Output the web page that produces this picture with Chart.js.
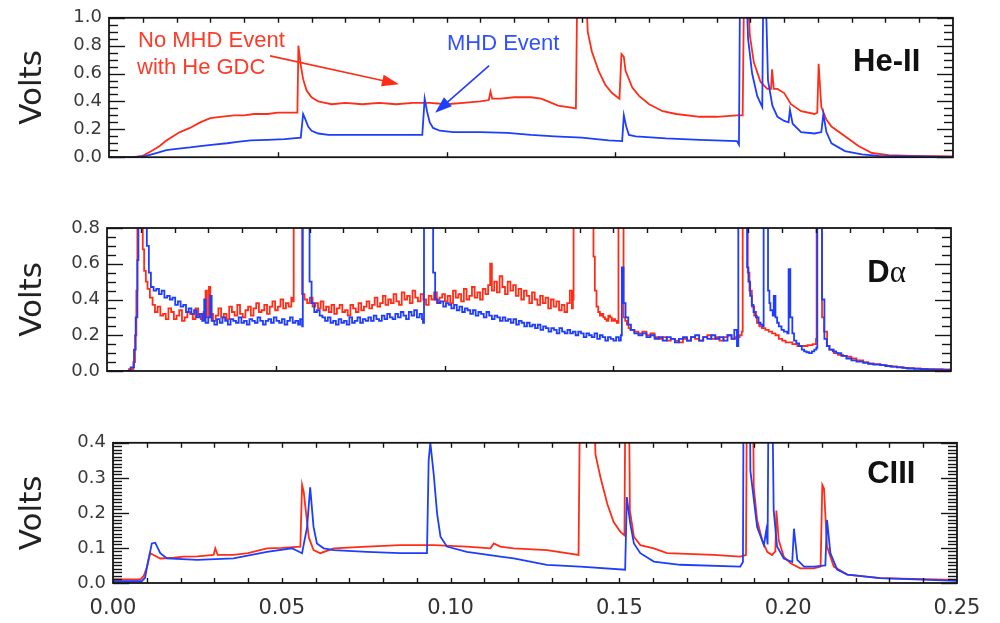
<!DOCTYPE html>
<html>
<head>
<meta charset="utf-8">
<title>He-II, D-alpha and CIII signals</title>
<script src="https://cdn.jsdelivr.net/npm/chart.js@4.4.1/dist/chart.umd.min.js"></script>
<style>
	html, body { margin: 0; padding: 0; background: #fff; }
	#page { position: relative; width: 1000px; height: 623px; overflow: hidden; }
	#page canvas { position: absolute; left: 0; }
</style>
</head>
<body>
<div id="page">
	<canvas id="panel-he" width="1000" height="175" style="top:0px"></canvas>
	<canvas id="panel-da" width="1000" height="180" style="top:210px"></canvas>
	<canvas id="panel-c" width="1000" height="198" style="top:425px"></canvas>
</div>
<script>
/* global Chart */
'use strict';

// time axis (s) and the y tick labels of each panel
const TIME_TICKS = [ 0, 0.05, 0.10, 0.15, 0.20, 0.25 ];
const HE_TICKS = [ 0, 0.2, 0.4, 0.6, 0.8, 1.0 ];
const DA_TICKS = [ 0, 0.2, 0.4, 0.6, 0.8 ];
const C_TICKS = [ 0, 0.1, 0.2, 0.3, 0.4 ];

const SERIES_NAMES = [ 'MHD Event', 'No MHD Event with He GDC' ];

// He-II, [time, volts]
const HE_RED = [
	[ 0, 0 ], [ 0.007, 0 ], [ 0.010, 0.01 ], [ 0.013, 0.05 ], [ 0.015, 0.08 ], [ 0.017, 0.12 ], [ 0.019, 0.15 ],
	[ 0.021, 0.18 ], [ 0.024, 0.21 ], [ 0.027, 0.25 ], [ 0.030, 0.28 ], [ 0.033, 0.29 ], [ 0.037, 0.30 ],
	[ 0.040, 0.30 ], [ 0.043, 0.31 ], [ 0.047, 0.31 ], [ 0.050, 0.32 ], [ 0.053, 0.32 ], [ 0.0558, 0.32 ],
	[ 0.0561, 0.80 ], [ 0.0568, 0.66 ], [ 0.0575, 0.56 ], [ 0.0585, 0.48 ], [ 0.060, 0.43 ], [ 0.062, 0.40 ],
	[ 0.064, 0.39 ], [ 0.066, 0.38 ], [ 0.070, 0.39 ], [ 0.075, 0.38 ], [ 0.080, 0.39 ], [ 0.085, 0.38 ],
	[ 0.090, 0.39 ], [ 0.095, 0.39 ], [ 0.100, 0.38 ], [ 0.105, 0.39 ], [ 0.110, 0.40 ], [ 0.1125, 0.41 ],
	[ 0.113, 0.47 ], [ 0.1135, 0.42 ], [ 0.116, 0.42 ], [ 0.120, 0.43 ], [ 0.125, 0.43 ], [ 0.128, 0.42 ],
	[ 0.130, 0.40 ], [ 0.133, 0.37 ], [ 0.136, 0.36 ], [ 0.1383, 0.35 ], [ 0.1387, 1.2 ], [ 0.1413, 1.2 ],
	[ 0.1418, 0.90 ], [ 0.143, 0.76 ], [ 0.145, 0.62 ], [ 0.147, 0.52 ], [ 0.149, 0.46 ], [ 0.1512, 0.42 ],
	[ 0.1518, 0.74 ], [ 0.1525, 0.72 ], [ 0.153, 0.62 ], [ 0.155, 0.50 ], [ 0.157, 0.44 ], [ 0.160, 0.38 ],
	[ 0.164, 0.33 ], [ 0.168, 0.31 ], [ 0.175, 0.29 ], [ 0.180, 0.29 ], [ 0.186, 0.30 ], [ 0.1877, 0.30 ],
	[ 0.1881, 1.2 ], [ 0.1893, 1.2 ], [ 0.1898, 0.88 ], [ 0.191, 0.68 ], [ 0.193, 0.54 ], [ 0.195, 0.49 ],
	[ 0.1961, 0.49 ], [ 0.1964, 0.63 ], [ 0.1969, 0.49 ], [ 0.198, 0.49 ], [ 0.200, 0.46 ], [ 0.202, 0.38 ],
	[ 0.205, 0.33 ], [ 0.209, 0.31 ], [ 0.2098, 0.32 ], [ 0.2102, 0.67 ], [ 0.211, 0.36 ], [ 0.2125, 0.27 ],
	[ 0.214, 0.22 ], [ 0.218, 0.15 ], [ 0.222, 0.08 ], [ 0.226, 0.03 ], [ 0.231, 0.015 ], [ 0.238, 0.01 ],
	[ 0.25, 0.005 ],
];
const HE_BLUE = [
	[ 0, 0 ], [ 0.008, 0 ], [ 0.011, 0.01 ], [ 0.014, 0.03 ], [ 0.017, 0.05 ], [ 0.020, 0.06 ], [ 0.024, 0.07 ],
	[ 0.027, 0.08 ], [ 0.031, 0.09 ], [ 0.035, 0.10 ], [ 0.038, 0.11 ], [ 0.042, 0.12 ], [ 0.047, 0.125 ],
	[ 0.052, 0.13 ], [ 0.0568, 0.14 ], [ 0.0575, 0.31 ], [ 0.0582, 0.27 ], [ 0.059, 0.22 ], [ 0.060, 0.19 ],
	[ 0.062, 0.17 ], [ 0.065, 0.16 ], [ 0.075, 0.16 ], [ 0.085, 0.16 ], [ 0.0928, 0.16 ], [ 0.0935, 0.42 ],
	[ 0.0942, 0.33 ], [ 0.095, 0.25 ], [ 0.096, 0.21 ], [ 0.098, 0.19 ], [ 0.102, 0.18 ], [ 0.110, 0.18 ],
	[ 0.118, 0.175 ], [ 0.125, 0.16 ], [ 0.132, 0.15 ], [ 0.140, 0.14 ], [ 0.148, 0.12 ], [ 0.1520, 0.115 ],
	[ 0.1525, 0.30 ], [ 0.1532, 0.22 ], [ 0.154, 0.16 ], [ 0.156, 0.15 ], [ 0.165, 0.135 ], [ 0.175, 0.125 ],
	[ 0.1860, 0.115 ], [ 0.1866, 0.09 ], [ 0.1869, 1.2 ], [ 0.1888, 1.2 ], [ 0.1893, 0.85 ], [ 0.1905, 0.60 ],
	[ 0.192, 0.44 ], [ 0.1935, 0.36 ], [ 0.1938, 1.2 ], [ 0.1945, 1.2 ], [ 0.1952, 0.55 ], [ 0.1965, 0.37 ],
	[ 0.198, 0.29 ], [ 0.200, 0.26 ], [ 0.2013, 0.25 ], [ 0.2017, 0.34 ], [ 0.2025, 0.24 ], [ 0.205, 0.18 ],
	[ 0.209, 0.17 ], [ 0.2110, 0.18 ], [ 0.2116, 0.31 ], [ 0.2125, 0.18 ], [ 0.214, 0.10 ], [ 0.218, 0.044 ],
	[ 0.223, 0.02 ], [ 0.228, 0.01 ], [ 0.25, 0.003 ],
];

// D-alpha, [time, volts]
const DA_RED = [
	[ 0, 0 ], [ 0.005, 0 ], [ 0.0065, 0.01 ], [ 0.0078, 0.05 ], [ 0.0083, 0.2 ], [ 0.0087, 0.45 ], [ 0.009, 0.9 ],
	[ 0.0104, 0.9 ], [ 0.0106, 0.68 ], [ 0.0110, 0.56 ], [ 0.0115, 0.50 ], [ 0.0120, 0.46 ], [ 0.0127, 0.41 ],
	[ 0.0135, 0.37 ], [ 0.0142, 0.33 ], [ 0.0150, 0.36 ], [ 0.0158, 0.31 ], [ 0.0166, 0.32 ], [ 0.0174, 0.29 ],
	[ 0.0182, 0.35 ], [ 0.0190, 0.33 ], [ 0.0198, 0.29 ], [ 0.0206, 0.31 ], [ 0.0214, 0.34 ], [ 0.0222, 0.28 ],
	[ 0.0230, 0.30 ], [ 0.0238, 0.33 ], [ 0.0246, 0.32 ], [ 0.0254, 0.29 ], [ 0.0262, 0.35 ], [ 0.0270, 0.31 ],
	[ 0.0278, 0.29 ], [ 0.0286, 0.33 ], [ 0.0292, 0.45 ], [ 0.0296, 0.30 ], [ 0.0302, 0.47 ], [ 0.0306, 0.32 ],
	[ 0.0314, 0.28 ], [ 0.0322, 0.31 ], [ 0.0330, 0.35 ], [ 0.0338, 0.30 ], [ 0.0346, 0.32 ], [ 0.0354, 0.29 ],
	[ 0.0362, 0.36 ], [ 0.0370, 0.33 ], [ 0.0378, 0.31 ], [ 0.0386, 0.37 ], [ 0.0394, 0.32 ], [ 0.0402, 0.30 ],
	[ 0.0410, 0.34 ], [ 0.0418, 0.36 ], [ 0.0426, 0.31 ], [ 0.0434, 0.35 ], [ 0.0442, 0.38 ], [ 0.0450, 0.33 ],
	[ 0.0458, 0.34 ], [ 0.0466, 0.37 ], [ 0.0474, 0.32 ], [ 0.0482, 0.36 ], [ 0.0490, 0.39 ], [ 0.0498, 0.34 ],
	[ 0.0506, 0.36 ], [ 0.0514, 0.40 ], [ 0.0522, 0.35 ], [ 0.0530, 0.38 ], [ 0.0538, 0.36 ], [ 0.0546, 0.41 ],
	[ 0.0550, 0.39 ], [ 0.0553, 0.9 ], [ 0.0576, 0.9 ], [ 0.0578, 0.43 ], [ 0.0585, 0.40 ], [ 0.0593, 0.38 ],
	[ 0.0601, 0.41 ], [ 0.0609, 0.36 ], [ 0.0617, 0.38 ], [ 0.0625, 0.35 ], [ 0.0633, 0.39 ], [ 0.0641, 0.34 ],
	[ 0.0649, 0.36 ], [ 0.0657, 0.33 ], [ 0.0665, 0.37 ], [ 0.0673, 0.32 ], [ 0.0681, 0.35 ], [ 0.0689, 0.37 ],
	[ 0.0697, 0.33 ], [ 0.0705, 0.34 ], [ 0.0713, 0.31 ], [ 0.0721, 0.37 ], [ 0.0729, 0.35 ], [ 0.0737, 0.33 ],
	[ 0.0745, 0.38 ], [ 0.0753, 0.34 ], [ 0.0761, 0.36 ], [ 0.0769, 0.39 ], [ 0.0777, 0.35 ], [ 0.0785, 0.37 ],
	[ 0.0793, 0.41 ], [ 0.0801, 0.36 ], [ 0.0809, 0.38 ], [ 0.0817, 0.42 ], [ 0.0825, 0.37 ], [ 0.0833, 0.40 ],
	[ 0.0841, 0.38 ], [ 0.0849, 0.43 ], [ 0.0857, 0.39 ], [ 0.0865, 0.37 ], [ 0.0873, 0.44 ], [ 0.0881, 0.40 ],
	[ 0.0889, 0.42 ], [ 0.0897, 0.38 ], [ 0.0905, 0.45 ], [ 0.0913, 0.41 ], [ 0.0921, 0.39 ], [ 0.0929, 0.43 ],
	[ 0.0937, 0.40 ], [ 0.0945, 0.37 ], [ 0.0953, 0.42 ], [ 0.0961, 0.40 ], [ 0.0969, 0.44 ], [ 0.0977, 0.38 ],
	[ 0.0985, 0.41 ], [ 0.0993, 0.43 ], [ 0.1001, 0.39 ], [ 0.1009, 0.42 ], [ 0.1017, 0.38 ], [ 0.1025, 0.45 ],
	[ 0.1033, 0.41 ], [ 0.1041, 0.43 ], [ 0.1049, 0.39 ], [ 0.1057, 0.46 ], [ 0.1065, 0.40 ], [ 0.1073, 0.42 ],
	[ 0.1081, 0.47 ], [ 0.1089, 0.41 ], [ 0.1097, 0.44 ], [ 0.1105, 0.40 ], [ 0.1113, 0.46 ], [ 0.1121, 0.43 ],
	[ 0.1129, 0.48 ], [ 0.1135, 0.60 ], [ 0.1140, 0.45 ], [ 0.1147, 0.50 ], [ 0.1155, 0.44 ], [ 0.1163, 0.53 ],
	[ 0.1171, 0.47 ], [ 0.1179, 0.43 ], [ 0.1187, 0.50 ], [ 0.1195, 0.45 ], [ 0.1203, 0.48 ], [ 0.1211, 0.42 ],
	[ 0.1219, 0.46 ], [ 0.1227, 0.40 ], [ 0.1235, 0.45 ], [ 0.1243, 0.42 ], [ 0.1251, 0.38 ], [ 0.1259, 0.44 ],
	[ 0.1267, 0.40 ], [ 0.1275, 0.37 ], [ 0.1283, 0.42 ], [ 0.1291, 0.38 ], [ 0.1299, 0.41 ], [ 0.1307, 0.35 ],
	[ 0.1315, 0.40 ], [ 0.1323, 0.36 ], [ 0.1331, 0.39 ], [ 0.1339, 0.34 ], [ 0.1347, 0.37 ], [ 0.1355, 0.33 ],
	[ 0.1363, 0.38 ], [ 0.1371, 0.45 ], [ 0.1377, 0.35 ], [ 0.1380, 0.40 ], [ 0.1382, 0.9 ], [ 0.1437, 0.9 ],
	[ 0.1441, 0.64 ], [ 0.1445, 0.45 ], [ 0.1450, 0.36 ], [ 0.1455, 0.33 ], [ 0.1460, 0.31 ], [ 0.1465, 0.32 ],
	[ 0.1470, 0.30 ], [ 0.1475, 0.29 ], [ 0.1480, 0.28 ], [ 0.1485, 0.31 ], [ 0.1490, 0.30 ], [ 0.1495, 0.28 ],
	[ 0.1500, 0.29 ], [ 0.1505, 0.28 ], [ 0.1510, 0.27 ], [ 0.1515, 0.9 ], [ 0.1526, 0.9 ], [ 0.1530, 0.30 ],
	[ 0.1535, 0.28 ], [ 0.1540, 0.26 ], [ 0.1545, 0.24 ], [ 0.1550, 0.23 ], [ 0.1562, 0.22 ], [ 0.1574, 0.21 ],
	[ 0.1586, 0.22 ], [ 0.1598, 0.20 ], [ 0.1610, 0.21 ], [ 0.1622, 0.19 ], [ 0.1634, 0.18 ], [ 0.1646, 0.19 ],
	[ 0.1658, 0.17 ], [ 0.1670, 0.18 ], [ 0.1682, 0.17 ], [ 0.1694, 0.16 ], [ 0.1706, 0.18 ], [ 0.1718, 0.17 ],
	[ 0.1730, 0.19 ], [ 0.1742, 0.18 ], [ 0.1754, 0.17 ], [ 0.1766, 0.19 ], [ 0.1778, 0.20 ], [ 0.1790, 0.18 ],
	[ 0.1802, 0.19 ], [ 0.1814, 0.17 ], [ 0.1826, 0.19 ], [ 0.1838, 0.20 ], [ 0.1850, 0.18 ], [ 0.1862, 0.19 ],
	[ 0.1874, 0.20 ], [ 0.1880, 0.22 ], [ 0.1883, 0.9 ], [ 0.1893, 0.9 ], [ 0.1898, 0.55 ], [ 0.1903, 0.45 ],
	[ 0.1910, 0.36 ], [ 0.1917, 0.31 ], [ 0.1925, 0.27 ], [ 0.1932, 0.25 ], [ 0.1940, 0.24 ], [ 0.1950, 0.23 ],
	[ 0.1960, 0.22 ], [ 0.1970, 0.21 ], [ 0.1980, 0.20 ], [ 0.1990, 0.18 ], [ 0.2000, 0.17 ], [ 0.2010, 0.16 ],
	[ 0.2020, 0.16 ], [ 0.2030, 0.15 ], [ 0.2045, 0.14 ], [ 0.2060, 0.14 ], [ 0.2075, 0.145 ], [ 0.2090, 0.15 ],
	[ 0.2100, 0.18 ], [ 0.2102, 0.9 ], [ 0.2111, 0.9 ], [ 0.2118, 0.30 ], [ 0.2124, 0.22 ], [ 0.2133, 0.14 ],
	[ 0.2140, 0.12 ], [ 0.2153, 0.10 ], [ 0.2165, 0.09 ], [ 0.2180, 0.085 ], [ 0.2192, 0.08 ], [ 0.2205, 0.07 ],
	[ 0.2220, 0.06 ], [ 0.2240, 0.05 ], [ 0.2255, 0.042 ], [ 0.2270, 0.038 ], [ 0.2291, 0.033 ], [ 0.2310, 0.028 ],
	[ 0.2325, 0.024 ], [ 0.2340, 0.022 ], [ 0.2360, 0.018 ], [ 0.2375, 0.016 ], [ 0.2390, 0.015 ], [ 0.2410, 0.012 ],
	[ 0.2430, 0.011 ], [ 0.2450, 0.010 ], [ 0.2475, 0.009 ], [ 0.25, 0.008 ],
];
const DA_BLUE = [
	[ 0, 0 ], [ 0.0055, 0 ], [ 0.0070, 0.02 ], [ 0.0080, 0.12 ], [ 0.0085, 0.30 ], [ 0.0090, 0.62 ], [ 0.0093, 0.9 ],
	[ 0.0116, 0.9 ], [ 0.0118, 0.70 ], [ 0.0124, 0.55 ], [ 0.0130, 0.47 ], [ 0.0138, 0.45 ], [ 0.0146, 0.46 ],
	[ 0.0154, 0.43 ], [ 0.0162, 0.45 ], [ 0.0170, 0.41 ], [ 0.0178, 0.42 ], [ 0.0186, 0.40 ], [ 0.0194, 0.41 ],
	[ 0.0202, 0.37 ], [ 0.0210, 0.39 ], [ 0.0218, 0.36 ], [ 0.0226, 0.37 ], [ 0.0234, 0.33 ], [ 0.0242, 0.35 ],
	[ 0.0250, 0.32 ], [ 0.0258, 0.34 ], [ 0.0266, 0.30 ], [ 0.0274, 0.32 ], [ 0.0282, 0.28 ], [ 0.0288, 0.40 ],
	[ 0.0292, 0.27 ], [ 0.0300, 0.30 ], [ 0.0306, 0.42 ], [ 0.0310, 0.28 ], [ 0.0318, 0.26 ], [ 0.0326, 0.29 ],
	[ 0.0334, 0.27 ], [ 0.0342, 0.30 ], [ 0.0350, 0.28 ], [ 0.0358, 0.26 ], [ 0.0366, 0.29 ], [ 0.0374, 0.28 ],
	[ 0.0382, 0.27 ], [ 0.0390, 0.30 ], [ 0.0398, 0.27 ], [ 0.0406, 0.28 ], [ 0.0414, 0.26 ], [ 0.0422, 0.29 ],
	[ 0.0430, 0.28 ], [ 0.0438, 0.27 ], [ 0.0446, 0.30 ], [ 0.0454, 0.28 ], [ 0.0462, 0.26 ], [ 0.0470, 0.28 ],
	[ 0.0478, 0.29 ], [ 0.0486, 0.27 ], [ 0.0494, 0.30 ], [ 0.0502, 0.28 ], [ 0.0510, 0.27 ], [ 0.0518, 0.29 ],
	[ 0.0526, 0.26 ], [ 0.0534, 0.28 ], [ 0.0542, 0.30 ], [ 0.0550, 0.27 ], [ 0.0558, 0.28 ], [ 0.0566, 0.26 ],
	[ 0.0572, 0.29 ], [ 0.0578, 0.25 ], [ 0.0580, 0.9 ], [ 0.0596, 0.9 ], [ 0.0600, 0.50 ], [ 0.0606, 0.38 ],
	[ 0.0614, 0.33 ], [ 0.0622, 0.34 ], [ 0.0630, 0.31 ], [ 0.0638, 0.30 ], [ 0.0646, 0.28 ], [ 0.0654, 0.30 ],
	[ 0.0662, 0.27 ], [ 0.0670, 0.28 ], [ 0.0678, 0.26 ], [ 0.0686, 0.29 ], [ 0.0694, 0.27 ], [ 0.0702, 0.28 ],
	[ 0.0710, 0.26 ], [ 0.0718, 0.30 ], [ 0.0726, 0.27 ], [ 0.0734, 0.28 ], [ 0.0742, 0.30 ], [ 0.0750, 0.27 ],
	[ 0.0758, 0.29 ], [ 0.0766, 0.28 ], [ 0.0774, 0.30 ], [ 0.0782, 0.28 ], [ 0.0790, 0.31 ], [ 0.0798, 0.29 ],
	[ 0.0806, 0.28 ], [ 0.0814, 0.31 ], [ 0.0822, 0.29 ], [ 0.0830, 0.32 ], [ 0.0838, 0.30 ], [ 0.0846, 0.29 ],
	[ 0.0854, 0.32 ], [ 0.0862, 0.30 ], [ 0.0870, 0.33 ], [ 0.0878, 0.31 ], [ 0.0886, 0.29 ], [ 0.0894, 0.33 ],
	[ 0.0902, 0.31 ], [ 0.0910, 0.34 ], [ 0.0918, 0.30 ], [ 0.0926, 0.32 ], [ 0.0933, 0.29 ], [ 0.0936, 0.27 ],
	[ 0.0939, 0.9 ], [ 0.0962, 0.9 ], [ 0.0966, 0.55 ], [ 0.0972, 0.40 ], [ 0.0980, 0.38 ], [ 0.0988, 0.39 ],
	[ 0.0996, 0.36 ], [ 0.1004, 0.38 ], [ 0.1012, 0.37 ], [ 0.1020, 0.35 ], [ 0.1028, 0.37 ], [ 0.1036, 0.34 ],
	[ 0.1044, 0.36 ], [ 0.1052, 0.33 ], [ 0.1060, 0.35 ], [ 0.1068, 0.34 ], [ 0.1076, 0.32 ], [ 0.1084, 0.34 ],
	[ 0.1092, 0.31 ], [ 0.1100, 0.33 ], [ 0.1108, 0.32 ], [ 0.1116, 0.30 ], [ 0.1124, 0.33 ], [ 0.1132, 0.31 ],
	[ 0.1140, 0.29 ], [ 0.1148, 0.31 ], [ 0.1156, 0.30 ], [ 0.1164, 0.28 ], [ 0.1172, 0.30 ], [ 0.1180, 0.28 ],
	[ 0.1188, 0.29 ], [ 0.1196, 0.27 ], [ 0.1204, 0.29 ], [ 0.1212, 0.26 ], [ 0.1220, 0.28 ], [ 0.1228, 0.27 ],
	[ 0.1236, 0.25 ], [ 0.1244, 0.27 ], [ 0.1252, 0.25 ], [ 0.1260, 0.26 ], [ 0.1268, 0.24 ], [ 0.1276, 0.26 ],
	[ 0.1284, 0.23 ], [ 0.1292, 0.25 ], [ 0.1300, 0.24 ], [ 0.1308, 0.22 ], [ 0.1316, 0.24 ], [ 0.1324, 0.23 ],
	[ 0.1332, 0.21 ], [ 0.1340, 0.24 ], [ 0.1348, 0.22 ], [ 0.1356, 0.21 ], [ 0.1364, 0.23 ], [ 0.1372, 0.21 ],
	[ 0.1380, 0.22 ], [ 0.1388, 0.20 ], [ 0.1396, 0.22 ], [ 0.1404, 0.21 ], [ 0.1412, 0.19 ], [ 0.1420, 0.21 ],
	[ 0.1428, 0.20 ], [ 0.1436, 0.19 ], [ 0.1444, 0.21 ], [ 0.1452, 0.18 ], [ 0.1460, 0.20 ], [ 0.1468, 0.19 ],
	[ 0.1476, 0.17 ], [ 0.1484, 0.19 ], [ 0.1492, 0.18 ], [ 0.1500, 0.17 ], [ 0.1508, 0.19 ], [ 0.1516, 0.17 ],
	[ 0.1522, 0.20 ], [ 0.1525, 0.58 ], [ 0.1530, 0.38 ], [ 0.1536, 0.30 ], [ 0.1544, 0.26 ], [ 0.1552, 0.23 ],
	[ 0.1562, 0.21 ], [ 0.1574, 0.20 ], [ 0.1586, 0.21 ], [ 0.1598, 0.19 ], [ 0.1610, 0.20 ], [ 0.1622, 0.18 ],
	[ 0.1634, 0.19 ], [ 0.1646, 0.17 ], [ 0.1658, 0.19 ], [ 0.1670, 0.18 ], [ 0.1682, 0.16 ], [ 0.1694, 0.18 ],
	[ 0.1706, 0.19 ], [ 0.1718, 0.17 ], [ 0.1730, 0.19 ], [ 0.1742, 0.20 ], [ 0.1754, 0.17 ], [ 0.1766, 0.19 ],
	[ 0.1778, 0.18 ], [ 0.1790, 0.20 ], [ 0.1802, 0.18 ], [ 0.1814, 0.19 ], [ 0.1826, 0.17 ], [ 0.1838, 0.20 ],
	[ 0.1850, 0.18 ], [ 0.1858, 0.23 ], [ 0.1866, 0.14 ], [ 0.1870, 0.9 ], [ 0.1892, 0.9 ], [ 0.1896, 0.58 ],
	[ 0.1900, 0.50 ], [ 0.1905, 0.42 ], [ 0.1910, 0.37 ], [ 0.1915, 0.33 ], [ 0.1922, 0.30 ], [ 0.1930, 0.27 ],
	[ 0.1936, 0.26 ], [ 0.1942, 0.25 ], [ 0.1945, 0.9 ], [ 0.1953, 0.9 ], [ 0.1958, 0.45 ], [ 0.1962, 0.38 ],
	[ 0.1965, 0.34 ], [ 0.1972, 0.31 ], [ 0.1975, 0.42 ], [ 0.1980, 0.30 ], [ 0.1985, 0.27 ], [ 0.1990, 0.25 ],
	[ 0.1998, 0.23 ], [ 0.2005, 0.22 ], [ 0.2015, 0.21 ], [ 0.2019, 0.57 ], [ 0.2024, 0.30 ], [ 0.2030, 0.21 ],
	[ 0.2035, 0.17 ], [ 0.2042, 0.155 ], [ 0.2050, 0.14 ], [ 0.2058, 0.12 ], [ 0.2065, 0.11 ], [ 0.2072, 0.105 ],
	[ 0.2080, 0.10 ], [ 0.2088, 0.11 ], [ 0.2095, 0.12 ], [ 0.2101, 0.13 ], [ 0.2104, 0.9 ], [ 0.2113, 0.9 ],
	[ 0.2118, 0.40 ], [ 0.2125, 0.18 ], [ 0.2132, 0.14 ], [ 0.2140, 0.12 ], [ 0.2150, 0.11 ], [ 0.2160, 0.10 ],
	[ 0.2175, 0.085 ], [ 0.2190, 0.07 ], [ 0.2205, 0.06 ], [ 0.2220, 0.052 ], [ 0.2240, 0.045 ], [ 0.2255, 0.04 ],
	[ 0.2270, 0.036 ], [ 0.2290, 0.033 ], [ 0.2305, 0.028 ], [ 0.2320, 0.024 ], [ 0.2340, 0.02 ], [ 0.2355, 0.017 ],
	[ 0.2370, 0.014 ], [ 0.2390, 0.012 ], [ 0.2410, 0.010 ], [ 0.2430, 0.009 ], [ 0.2450, 0.008 ], [ 0.2475, 0.006 ],
	[ 0.25, 0.005 ],
];

// CIII, [time, volts]
const C_RED = [
	[ 0, 0.01 ], [ 0.0081, 0.01 ], [ 0.0091, 0.02 ], [ 0.0101, 0.047 ], [ 0.0110, 0.085 ], [ 0.0120, 0.08 ],
	[ 0.0140, 0.07 ], [ 0.0180, 0.072 ], [ 0.0209, 0.075 ], [ 0.0250, 0.076 ], [ 0.0298, 0.08 ], [ 0.0303, 0.099 ],
	[ 0.0310, 0.08 ], [ 0.0357, 0.08 ], [ 0.0400, 0.085 ], [ 0.0456, 0.099 ], [ 0.0500, 0.10 ], [ 0.0555, 0.104 ],
	[ 0.0560, 0.28 ], [ 0.0565, 0.26 ], [ 0.0570, 0.216 ], [ 0.0580, 0.13 ], [ 0.0594, 0.094 ], [ 0.0614, 0.085 ],
	[ 0.0654, 0.099 ], [ 0.0752, 0.104 ], [ 0.0851, 0.108 ], [ 0.0950, 0.108 ], [ 0.1048, 0.104 ], [ 0.1118, 0.099 ],
	[ 0.1128, 0.113 ], [ 0.1147, 0.104 ], [ 0.1187, 0.099 ], [ 0.1285, 0.094 ], [ 0.1379, 0.08 ], [ 0.1384, 0.6 ],
	[ 0.1424, 0.6 ], [ 0.1429, 0.367 ], [ 0.1444, 0.301 ], [ 0.1464, 0.226 ], [ 0.1483, 0.174 ], [ 0.1503, 0.146 ],
	[ 0.1515, 0.136 ], [ 0.1518, 0.6 ], [ 0.1528, 0.6 ], [ 0.1531, 0.207 ], [ 0.1543, 0.132 ], [ 0.1562, 0.108 ],
	[ 0.1602, 0.099 ], [ 0.1641, 0.085 ], [ 0.1779, 0.08 ], [ 0.1858, 0.075 ], [ 0.1875, 0.08 ], [ 0.1878, 0.6 ],
	[ 0.1895, 0.6 ], [ 0.1898, 0.273 ], [ 0.1908, 0.179 ], [ 0.1923, 0.122 ], [ 0.1938, 0.089 ], [ 0.1952, 0.08 ],
	[ 0.1962, 0.09 ], [ 0.1965, 0.207 ], [ 0.1972, 0.122 ], [ 0.1987, 0.075 ], [ 0.2007, 0.056 ], [ 0.2036, 0.042 ],
	[ 0.2076, 0.042 ], [ 0.2096, 0.047 ], [ 0.2101, 0.28 ], [ 0.2106, 0.27 ], [ 0.2115, 0.104 ], [ 0.2135, 0.047 ],
	[ 0.2175, 0.024 ], [ 0.2273, 0.014 ], [ 0.25, 0.009 ],
];
const C_BLUE = [
	[ 0, 0.005 ], [ 0.0085, 0.005 ], [ 0.0095, 0.015 ], [ 0.0101, 0.047 ], [ 0.0115, 0.113 ], [ 0.0125, 0.115 ],
	[ 0.0140, 0.085 ], [ 0.0160, 0.07 ], [ 0.0250, 0.066 ], [ 0.0357, 0.07 ], [ 0.0456, 0.089 ], [ 0.0530, 0.099 ],
	[ 0.0560, 0.085 ], [ 0.0575, 0.16 ], [ 0.0584, 0.273 ], [ 0.0594, 0.16 ], [ 0.0604, 0.113 ], [ 0.0624, 0.099 ],
	[ 0.0654, 0.094 ], [ 0.0752, 0.089 ], [ 0.0851, 0.085 ], [ 0.0930, 0.085 ], [ 0.0935, 0.35 ], [ 0.0940, 0.40 ],
	[ 0.0950, 0.31 ], [ 0.0960, 0.198 ], [ 0.0970, 0.132 ], [ 0.0989, 0.104 ], [ 0.1048, 0.089 ], [ 0.1148, 0.075 ],
	[ 0.1187, 0.07 ], [ 0.1285, 0.052 ], [ 0.1384, 0.047 ], [ 0.1517, 0.038 ], [ 0.1522, 0.245 ], [ 0.1532, 0.17 ],
	[ 0.1543, 0.113 ], [ 0.1562, 0.085 ], [ 0.1602, 0.061 ], [ 0.1680, 0.052 ], [ 0.1858, 0.047 ], [ 0.1866, 0.06 ],
	[ 0.1868, 0.6 ], [ 0.1886, 0.6 ], [ 0.1888, 0.32 ], [ 0.1908, 0.16 ], [ 0.1928, 0.108 ], [ 0.1935, 0.15 ],
	[ 0.1939, 0.11 ], [ 0.1942, 0.6 ], [ 0.1952, 0.6 ], [ 0.1957, 0.207 ], [ 0.1967, 0.104 ], [ 0.1987, 0.07 ],
	[ 0.2012, 0.06 ], [ 0.2017, 0.155 ], [ 0.2027, 0.066 ], [ 0.2047, 0.047 ], [ 0.2076, 0.047 ], [ 0.2110, 0.05 ],
	[ 0.2115, 0.18 ], [ 0.2125, 0.085 ], [ 0.2145, 0.038 ], [ 0.2175, 0.024 ], [ 0.2273, 0.014 ], [ 0.25, 0.006 ],
];

( function () {
	const RED = '#ff2d17';
	const BLUE = '#1f3dff';
	const INK = '#151515';
	const TICK_FONT = { family: '"DejaVu Sans", sans-serif', size: 18 };

	Chart.defaults.animation = false;
	Chart.defaults.font.family = '"Liberation Sans", Arial, sans-serif';

	// box round the plot area with IDL style inward ticks
	const framePlugin = {
		id: 'frame',
		afterDatasetsDraw: function ( chart, args, opts ) {
			const ctx = chart.ctx;
			const area = chart.chartArea;
			const xs = chart.scales.x;
			const ys = chart.scales.y;

			ctx.save();
			ctx.strokeStyle = INK;
			ctx.lineWidth = 1.4;

			const ySteps = Math.round( ( ys.max - ys.min ) / opts.yMinor );
			for ( let i = 0; i <= ySteps; i++ ) {
				const v = ys.min + i * opts.yMinor;
				const py = Math.round( ys.getPixelForValue( v ) ) + 0.5;
				const ratio = v / opts.yMajor;
				const len = Math.abs( ratio - Math.round( ratio ) ) < 1e-6 ? 16 : 9;
				segment( ctx, area.left, py, area.left + len, py );
				segment( ctx, area.right, py, area.right - len, py );
			}

			drawXTicks( ctx, xs, area.top, 5, opts.xTop );
			drawXTicks( ctx, xs, area.bottom, -5, opts.xBottom );

			ctx.lineWidth = 1.8;
			ctx.strokeRect( area.left, area.top, area.right - area.left, area.bottom - area.top );
			ctx.restore();
		},
	};

	// panel names, annotation texts and arrows, placed in data units
	const notesPlugin = {
		id: 'notes',
		afterDraw: function ( chart, args, opts ) {
			const ctx = chart.ctx;
			const xs = chart.scales.x;
			const ys = chart.scales.y;

			ctx.save();
			( opts.arrows || [] ).forEach( function ( a ) {
				const x0 = xs.getPixelForValue( a.from[ 0 ] );
				const y0 = ys.getPixelForValue( a.from[ 1 ] );
				const x1 = xs.getPixelForValue( a.to[ 0 ] );
				const y1 = ys.getPixelForValue( a.to[ 1 ] );
				const ang = Math.atan2( y1 - y0, x1 - x0 );
				const c = Math.cos( ang );
				const s = Math.sin( ang );

				ctx.strokeStyle = a.color;
				ctx.fillStyle = a.color;
				ctx.lineWidth = 1.6;
				segment( ctx, x0, y0, x1 - 10 * c, y1 - 10 * s );

				ctx.beginPath();
				ctx.moveTo( x1, y1 );
				ctx.lineTo( x1 - 17 * c + 6 * s, y1 - 17 * s - 6 * c );
				ctx.lineTo( x1 - 17 * c - 6 * s, y1 - 17 * s + 6 * c );
				ctx.closePath();
				ctx.fill();
			} );

			( opts.texts || [] ).forEach( function ( t ) {
				let px = xs.getPixelForValue( t.at[ 0 ] );
				const py = ys.getPixelForValue( t.at[ 1 ] );
				ctx.textAlign = 'left';
				ctx.textBaseline = 'alphabetic';
				t.parts.forEach( function ( p ) {
					ctx.font = p.font;
					ctx.fillStyle = p.color;
					ctx.fillText( p.text, px, py );
					px += ctx.measureText( p.text ).width;
				} );
			} );
			ctx.restore();
		},
	};

	buildPanel( 'panel-he', {
		reds: HE_RED,
		blues: HE_BLUE,
		yTicks: HE_TICKS,
		yMinor: 0.05,
		yMajor: 0.2,
		yWidth: 109,
		padding: { top: 15, right: 47, bottom: 17, left: 0 },
		xBottom: 0.05,
		showTime: false,
		stepped: false,
		notes: {
			texts: [
				{ at: [ 0.0086, 0.79 ], parts: [ { text: 'No MHD Event', font: '22px "Liberation Sans"', color: '#ff3a28' } ] },
				{ at: [ 0.0083, 0.60 ], parts: [ { text: 'with He GDC', font: '22px "Liberation Sans"', color: '#ff3a28' } ] },
				{ at: [ 0.1001, 0.769 ], parts: [ { text: 'MHD Event', font: '22px "Liberation Sans"', color: '#3050ff' } ] },
				{ at: [ 0.2204, 0.615 ], parts: [ { text: 'He-II', font: 'bold 31px "Liberation Sans"', color: '#111' } ] },
			],
			arrows: [
				{ from: [ 0.0477, 0.727 ], to: [ 0.0859, 0.524 ], color: RED },
				{ from: [ 0.1126, 0.657 ], to: [ 0.0966, 0.318 ], color: BLUE },
			],
		},
	} );

	buildPanel( 'panel-da', {
		reds: DA_RED,
		blues: DA_BLUE,
		yTicks: DA_TICKS,
		yMinor: 0.05,
		yMajor: 0.2,
		yWidth: 107,
		padding: { top: 18, right: 49, bottom: 19, left: 0 },
		xBottom: 0.05,
		showTime: false,
		stepped: true,
		notes: {
			texts: [
				{
					at: [ 0.2252, 0.498 ],
					parts: [
						{ text: 'D', font: 'bold 31px "Liberation Sans"', color: '#111' },
						{ text: 'α', font: '31px "Liberation Serif"', color: '#111' },
					],
				},
			],
		},
	} );

	buildPanel( 'panel-c', {
		reds: C_RED,
		blues: C_BLUE,
		yTicks: C_TICKS,
		yMinor: 0.01,
		yMajor: 0.1,
		yWidth: 113,
		padding: { top: 17, right: 43, bottom: 0, left: 0 },
		xBottom: 0.01,
		showTime: true,
		stepped: false,
		notes: {
			texts: [
				{ at: [ 0.2234, 0.286 ], parts: [ { text: 'CIII', font: 'bold 31px "Liberation Sans"', color: '#111' } ] },
			],
		},
	} );

	function buildPanel( canvasId, cfg ) {
		const canvas = document.getElementById( canvasId );

		return new Chart( canvas.getContext( '2d' ), {
			type: 'line',
			data: {
				datasets: [
					lineSet( SERIES_NAMES[ 0 ], cfg.blues, BLUE, cfg.stepped ),
					lineSet( SERIES_NAMES[ 1 ], cfg.reds, RED, cfg.stepped ),
				],
			},
			options: {
				responsive: false,
				devicePixelRatio: 1,
				layout: { padding: cfg.padding },
				plugins: {
					legend: { display: false },
					tooltip: { enabled: false },
					frame: { yMinor: cfg.yMinor, yMajor: cfg.yMajor, xTop: 0.01, xBottom: cfg.xBottom },
					notes: cfg.notes,
				},
				scales: {
					x: {
						type: 'linear',
						min: TIME_TICKS[ 0 ],
						max: TIME_TICKS[ TIME_TICKS.length - 1 ],
						display: cfg.showTime,
						afterBuildTicks: function ( scale ) {
							scale.ticks = TIME_TICKS.map( function ( v ) {
								return { value: v };
							} );
						},
						afterFit: function ( scale ) {
							if ( cfg.showTime ) {
								scale.height = 40;
							}
						},
						grid: { display: false, drawTicks: false },
						border: { display: false },
						ticks: {
							autoSkip: false,
							maxRotation: 0,
							padding: 13,
							color: '#333',
							font: { family: TICK_FONT.family, size: 21 },
							callback: function ( value ) {
								return Number( value ).toFixed( 2 );
							},
						},
					},
					y: {
						type: 'linear',
						min: cfg.yTicks[ 0 ],
						max: cfg.yTicks[ cfg.yTicks.length - 1 ],
						afterBuildTicks: function ( scale ) {
							scale.ticks = cfg.yTicks.map( function ( v ) {
								return { value: v };
							} );
						},
						afterFit: function ( scale ) {
							scale.width = cfg.yWidth;
						},
						grid: { display: false, drawTicks: false },
						border: { display: false },
						title: {
							display: true,
							text: 'Volts',
							color: '#222',
							font: { family: '"DejaVu Sans", sans-serif', size: 31 },
							padding: { top: 14, bottom: 0 },
						},
						ticks: {
							autoSkip: false,
							padding: 7,
							color: '#3a3a3a',
							font: TICK_FONT,
							callback: function ( value ) {
								return Number( value ).toFixed( 1 );
							},
						},
					},
				},
			},
			plugins: [ framePlugin, notesPlugin ],
		} );
	}

	function lineSet( label, points, color, stepped ) {
		return {
			label: label,
			data: points,
			borderColor: color,
			backgroundColor: color,
			borderWidth: 1.8,
			pointRadius: 0,
			tension: 0,
			stepped: stepped,
			fill: false,
		};
	}

	function drawXTicks( ctx, xs, py, len, step ) {
		const steps = Math.round( ( xs.max - xs.min ) / step );
		for ( let i = 1; i < steps; i++ ) {
			const px = Math.round( xs.getPixelForValue( xs.min + i * step ) ) + 0.5;
			segment( ctx, px, py, px, py + len );
		}
	}

	function segment( ctx, x0, y0, x1, y1 ) {
		ctx.beginPath();
		ctx.moveTo( x0, y0 );
		ctx.lineTo( x1, y1 );
		ctx.stroke();
	}
}() );
</script>
</body>
</html>
